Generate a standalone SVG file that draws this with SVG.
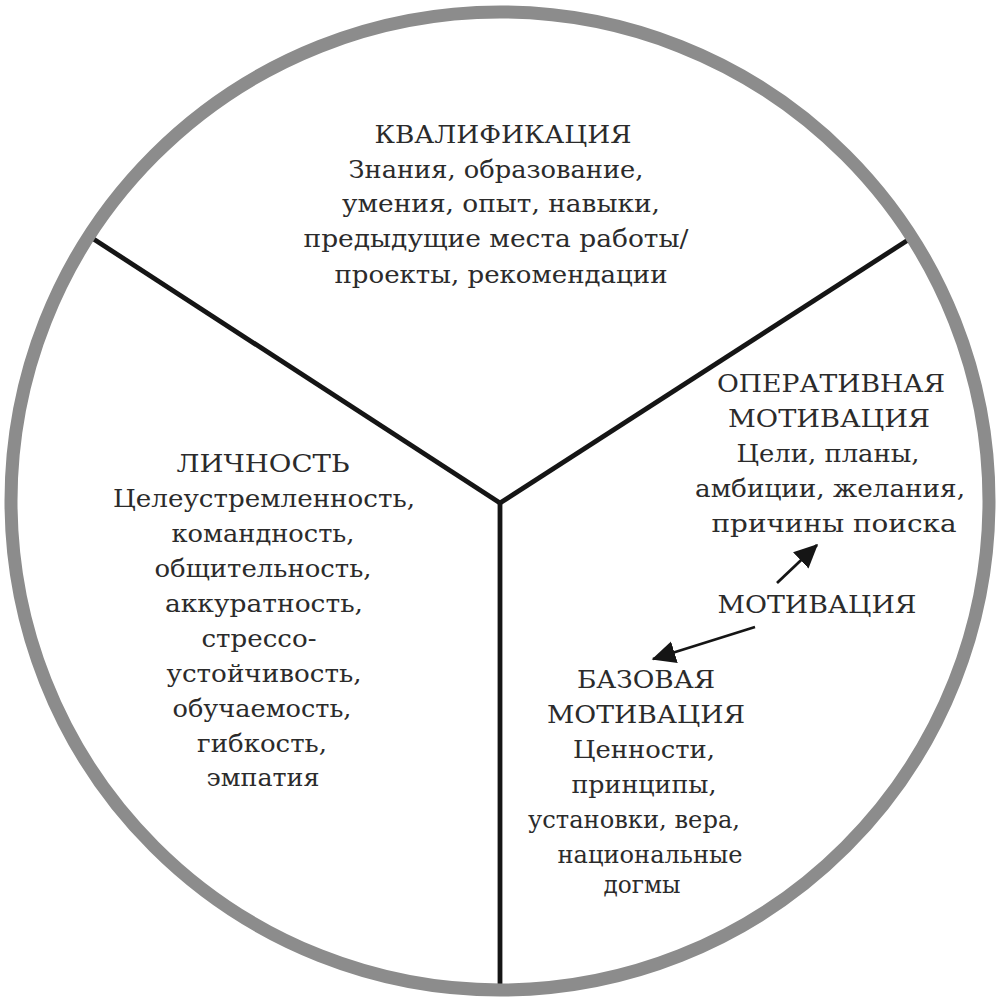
<svg xmlns="http://www.w3.org/2000/svg" width="1000" height="1000" viewBox="0 0 1000 1000">
<style>
.t{font-family:"DejaVu Serif","Liberation Serif",serif;font-size:25px;fill:#2b2b2b;text-anchor:middle}
.div{stroke:#151515;stroke-width:4.8;fill:none;stroke-linecap:butt}
.arr{stroke:#151515;stroke-width:2.8;fill:none}
</style>
<defs>
<marker id="ah" markerWidth="9" markerHeight="9" refX="8" refY="4.5" orient="auto" markerUnits="strokeWidth">
<path d="M0,0.5 L8.5,4.5 L0,8.5 Z" fill="#151515"/>
</marker>
</defs>
<rect width="1000" height="1000" fill="#fff"/>
<g id="connectors">
<line class="div" x1="500" y1="503" x2="92" y2="238"/>
<line class="div" x1="500" y1="503" x2="908" y2="240"/>
<line class="div" x1="500" y1="501" x2="500" y2="990"/>
<line class="arr" x1="777" y1="583" x2="817" y2="545" marker-end="url(#ah)"/>
<line class="arr" x1="755" y1="627" x2="653" y2="659" marker-end="url(#ah)"/>
</g>
<g id="circle">
<circle cx="500" cy="501" r="489" fill="none" stroke="#8c8c8c" stroke-width="13"/>
</g>
<g id="qualification">
<text class="t" x="503" y="143" textLength="257" lengthAdjust="spacingAndGlyphs">КВАЛИФИКАЦИЯ</text>
<text class="t" x="496" y="178" textLength="295" lengthAdjust="spacingAndGlyphs">Знания, образование,</text>
<text class="t" x="501" y="212" textLength="318" lengthAdjust="spacingAndGlyphs">умения, опыт, навыки,</text>
<text class="t" x="496" y="247" textLength="385" lengthAdjust="spacingAndGlyphs">предыдущие места работы/</text>
<text class="t" x="501" y="283" textLength="333" lengthAdjust="spacingAndGlyphs">проекты, рекомендации</text>
</g>
<g id="personality">
<text class="t" x="263" y="472" textLength="173" lengthAdjust="spacingAndGlyphs">ЛИЧНОСТЬ</text>
<text class="t" x="264" y="507" textLength="302" lengthAdjust="spacingAndGlyphs">Целеустремленность,</text>
<text class="t" x="263" y="542" textLength="183" lengthAdjust="spacingAndGlyphs">командность,</text>
<text class="t" x="263" y="577" textLength="217" lengthAdjust="spacingAndGlyphs">общительность,</text>
<text class="t" x="264" y="612" textLength="198" lengthAdjust="spacingAndGlyphs">аккуратность,</text>
<text class="t" x="259" y="647" textLength="115" lengthAdjust="spacingAndGlyphs">стрессо-</text>
<text class="t" x="264" y="682" textLength="195" lengthAdjust="spacingAndGlyphs">устойчивость,</text>
<text class="t" x="262" y="717" textLength="179" lengthAdjust="spacingAndGlyphs">обучаемость,</text>
<text class="t" x="262" y="752" textLength="130" lengthAdjust="spacingAndGlyphs">гибкость,</text>
<text class="t" x="263" y="786" textLength="113" lengthAdjust="spacingAndGlyphs">эмпатия</text>
</g>
<g id="operative">
<text class="t" x="831" y="392" textLength="228" lengthAdjust="spacingAndGlyphs">ОПЕРАТИВНАЯ</text>
<text class="t" x="829" y="427" textLength="202" lengthAdjust="spacingAndGlyphs">МОТИВАЦИЯ</text>
<text class="t" x="828" y="462" textLength="183" lengthAdjust="spacingAndGlyphs">Цели, планы,</text>
<text class="t" x="830" y="497" textLength="270" lengthAdjust="spacingAndGlyphs">амбиции, желания,</text>
<text class="t" x="834" y="532" textLength="245" lengthAdjust="spacingAndGlyphs">причины поиска</text>
</g>
<g id="motivation">
<text class="t" x="817" y="613" textLength="199" lengthAdjust="spacingAndGlyphs">МОТИВАЦИЯ</text>
</g>
<g id="basic">
<text class="t" x="646" y="688" textLength="138" lengthAdjust="spacingAndGlyphs">БАЗОВАЯ</text>
<text class="t" x="646" y="723" textLength="198" lengthAdjust="spacingAndGlyphs">МОТИВАЦИЯ</text>
<text class="t" x="644" y="758" textLength="142" lengthAdjust="spacingAndGlyphs">Ценности,</text>
<text class="t" x="644" y="793" textLength="145" lengthAdjust="spacingAndGlyphs">принципы,</text>
<text class="t" x="634" y="828" textLength="212" lengthAdjust="spacingAndGlyphs">установки, вера,</text>
<text class="t" x="650" y="863" textLength="185" lengthAdjust="spacingAndGlyphs">национальные</text>
<text class="t" x="642" y="893" textLength="77" lengthAdjust="spacingAndGlyphs">догмы</text>
</g>
</svg>
